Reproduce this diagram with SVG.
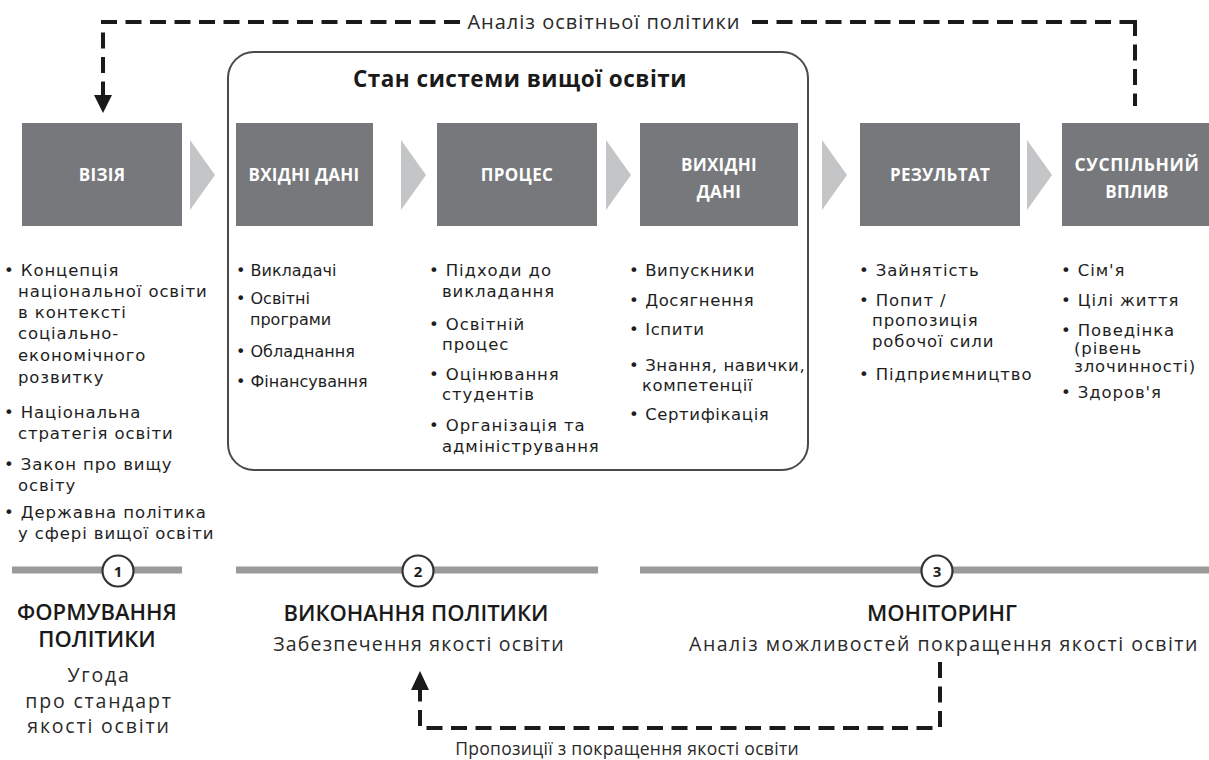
<svg xmlns="http://www.w3.org/2000/svg" width="1209" height="760" viewBox="0 0 1209 760">
  <style>
    .box { fill: #76787b; }
    .chev { fill: #c4c5c7; }
    .boxlabel { font-family: "Open Sans", "Noto Sans", sans-serif; font-weight: 700; font-size: 17px; letter-spacing: 0.3px; fill: #ffffff; text-anchor: middle; }
    .item { font-family: "DejaVu Sans", "Noto Sans", sans-serif; font-size: 16.5px; letter-spacing: 0.9px; fill: #1e1e1e; }
    .item.tight { font-size: 16px; letter-spacing: 0; }
    .item.mid { letter-spacing: 0.6px; }
    .dash { fill: none; stroke: #1a1a1a; stroke-width: 4; stroke-dasharray: 16 8.5; }
    .bar { stroke: #9a9a9a; stroke-width: 7; }
    .num { fill: #ffffff; stroke: #333333; stroke-width: 2.2; }
    .numtxt { font-family: "Open Sans", "Noto Sans", sans-serif; font-weight: 700; font-size: 15px; fill: #1e1e1e; text-anchor: middle; }
    .head { font-family: "Open Sans", "Noto Sans", sans-serif; font-weight: 600; font-size: 22px; fill: #1a1a1a; text-anchor: middle; }
    .sub { font-family: "Open Sans", "Noto Sans", sans-serif; font-size: 19.5px; letter-spacing: 1.2px; fill: #2a2a2a; text-anchor: middle; }
    .title { font-family: "Open Sans", "Noto Sans", sans-serif; font-weight: 700; font-size: 22.5px; letter-spacing: 0.5px; fill: #1a1a1a; text-anchor: middle; }
  </style>

  <rect width="1209" height="760" fill="#ffffff"/>

  <!-- frame around the higher-education system block -->
  <g id="system-frame">
    <rect x="228" y="52" width="580" height="418" rx="26" ry="26" fill="none" stroke="#4a4a4a" stroke-width="2"/>
    <text class="title" x="520" y="87">Стан системи вищої освіти</text>
  </g>

  <!-- connectors -->
  <g id="connectors">
    <polyline class="dash" points="460,22 103,22 103,95"/>
    <path d="M94,95 L112,95 L103,113 Z" fill="#1a1a1a"/>
    <polyline class="dash" points="752,22 1137,22"/>
    <polyline class="dash" points="1135,20 1135,106"/>
    <text class="sub" x="604" y="29" style="font-size:20px;letter-spacing:1px">Аналіз освітньої політики</text>

    <polyline class="dash" points="940,662 940,728 420,728 420,690"/>
    <path d="M411,690 L429,690 L420,671 Z" fill="#1a1a1a"/>
    <text class="sub" x="627" y="755" style="font-size:17.5px;letter-spacing:0.3px">Пропозиції з покращення якості освіти</text>

    <!-- chevrons between stages -->
    <path class="chev" d="M190,140 L215,175 L190,210 Z"/>
    <path class="chev" d="M401,140 L426,175 L401,210 Z"/>
    <path class="chev" d="M606,140 L631,175 L606,210 Z"/>
    <path class="chev" d="M822,140 L847,175 L822,210 Z"/>
    <path class="chev" d="M1027,140 L1052,175 L1027,210 Z"/>
  </g>

  <!-- stage boxes with their item lists -->
  <g id="vision">
    <rect class="box" x="22" y="123" width="160" height="103"/>
    <text class="boxlabel" x="102" y="181">ВІЗІЯ</text>
    <text class="item" x="4" y="276">• Концепція</text>
    <text class="item" x="18" y="297">національної освіти</text>
    <text class="item" x="18" y="318">в контексті</text>
    <text class="item" x="18" y="339">соціально-</text>
    <text class="item" x="18" y="361">економічного</text>
    <text class="item" x="18" y="383">розвитку</text>
    <text class="item" x="4" y="418">• Національна</text>
    <text class="item" x="18" y="439">стратегія освіти</text>
    <text class="item" x="4" y="470">• Закон про вищу</text>
    <text class="item" x="18" y="491">освіту</text>
    <text class="item" x="4" y="518">• Державна політика</text>
    <text class="item" x="18" y="539">у сфері вищої освіти</text>
  </g>

  <g id="inputs">
    <rect class="box" x="236" y="123" width="137" height="103"/>
    <text class="boxlabel" x="304" y="181">ВХІДНІ ДАНІ</text>
    <text class="item tight" x="236" y="276">• Викладачі</text>
    <text class="item tight" x="236" y="304">• Освітні</text>
    <text class="item tight" x="250" y="325">програми</text>
    <text class="item tight" x="236" y="357">• Обладнання</text>
    <text class="item tight" x="236" y="387">• Фінансування</text>
  </g>

  <g id="process">
    <rect class="box" x="437" y="123" width="160" height="103"/>
    <text class="boxlabel" x="517" y="181">ПРОЦЕС</text>
    <text class="item" x="429" y="276">• Підходи до</text>
    <text class="item" x="442" y="297">викладання</text>
    <text class="item" x="429" y="330">• Освітній</text>
    <text class="item" x="442" y="350">процес</text>
    <text class="item" x="429" y="380">• Оцінювання</text>
    <text class="item" x="442" y="400">студентів</text>
    <text class="item" x="429" y="431">• Організація та</text>
    <text class="item" x="442" y="452">адміністрування</text>
  </g>

  <g id="outputs">
    <rect class="box" x="640" y="123" width="158" height="103"/>
    <text class="boxlabel" x="719" y="171">ВИХІДНІ</text>
    <text class="boxlabel" x="719" y="198">ДАНІ</text>
    <text class="item mid" x="629" y="276">• Випускники</text>
    <text class="item mid" x="629" y="306">• Досягнення</text>
    <text class="item mid" x="629" y="335">• Іспити</text>
    <text class="item mid" x="629" y="371">• Знання, навички,</text>
    <text class="item mid" x="642" y="391">компетенції</text>
    <text class="item mid" x="629" y="420">• Сертифікація</text>
  </g>

  <g id="outcome">
    <rect class="box" x="860" y="123" width="160" height="103"/>
    <text class="boxlabel" x="940" y="181">РЕЗУЛЬТАТ</text>
    <text class="item" x="859" y="276">• Зайнятість</text>
    <text class="item" x="859" y="306">• Попит /</text>
    <text class="item" x="872" y="326">пропозиція</text>
    <text class="item" x="872" y="347">робочої сили</text>
    <text class="item" x="859" y="380">• Підприємництво</text>
  </g>

  <g id="impact">
    <rect class="box" x="1062" y="123" width="150" height="103"/>
    <text class="boxlabel" x="1137" y="171" style="font-size:17.5px;letter-spacing:0.6px">СУСПІЛЬНИЙ</text>
    <text class="boxlabel" x="1137" y="198">ВПЛИВ</text>
    <text class="item" x="1061" y="276">• Сім'я</text>
    <text class="item" x="1061" y="306">• Цілі життя</text>
    <text class="item" x="1061" y="336">• Поведінка</text>
    <text class="item" x="1074" y="354">(рівень</text>
    <text class="item" x="1074" y="372">злочинності)</text>
    <text class="item" x="1061" y="398">• Здоров'я</text>
  </g>

  <!-- policy cycle phases -->
  <g id="phase-1">
    <line class="bar" x1="12" y1="570" x2="182" y2="570"/>
    <circle class="num" cx="118" cy="571" r="15.5"/>
    <text class="numtxt" x="118" y="577">1</text>
    <text class="head" x="97" y="620">ФОРМУВАННЯ</text>
    <text class="head" x="97" y="647">ПОЛІТИКИ</text>
    <text class="sub" x="99" y="682" style="letter-spacing:1.8px">Угода</text>
    <text class="sub" x="99" y="708" style="letter-spacing:1.8px">про стандарт</text>
    <text class="sub" x="99" y="733" style="letter-spacing:1.8px">якості освіти</text>
  </g>

  <g id="phase-2">
    <line class="bar" x1="236" y1="570" x2="598" y2="570"/>
    <circle class="num" cx="418" cy="571" r="15.5"/>
    <text class="numtxt" x="418" y="577">2</text>
    <text class="head" x="416" y="621">ВИКОНАННЯ ПОЛІТИКИ</text>
    <text class="sub" x="419" y="651">Забезпечення якості освіти</text>
  </g>

  <g id="phase-3">
    <line class="bar" x1="640" y1="570" x2="1209" y2="570"/>
    <circle class="num" cx="937" cy="571" r="15.5"/>
    <text class="numtxt" x="937" y="577">3</text>
    <text class="head" x="942" y="621">МОНІТОРИНГ</text>
    <text class="sub" x="944" y="651" style="letter-spacing:1.5px">Аналіз можливостей покращення якості освіти</text>
  </g>
</svg>
